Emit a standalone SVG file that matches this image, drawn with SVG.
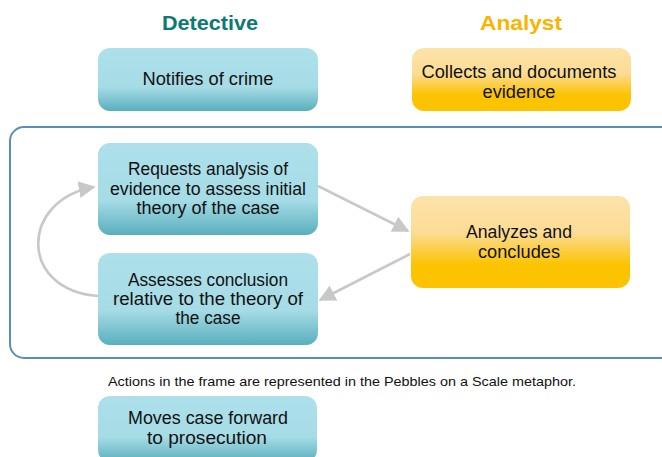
<svg xmlns="http://www.w3.org/2000/svg" width="662" height="457" viewBox="0 0 662 457">
<defs>
<linearGradient id="blue" x1="0" y1="0" x2="0" y2="1">
<stop offset="0" stop-color="#ade0ea"/>
<stop offset="0.62" stop-color="#a6dce6"/>
<stop offset="1" stop-color="#5aafbd"/>
</linearGradient>
<linearGradient id="orange" x1="0" y1="0" x2="0" y2="1">
<stop offset="0" stop-color="#fde3aa"/>
<stop offset="0.4" stop-color="#fcdc95"/>
<stop offset="0.75" stop-color="#fbc300"/>
<stop offset="1" stop-color="#fbc300"/>
</linearGradient>
<marker id="ah" viewBox="0 0 10 10" refX="9" refY="5" markerWidth="6.5" markerHeight="6.5" orient="auto" markerUnits="strokeWidth">
<path d="M0,0 L10,5 L0,10 z" fill="#c8c8c8"/>
</marker>
<style>
.t{font-family:"Liberation Sans",Arial,sans-serif;font-size:17.5px;fill:#111;text-anchor:middle}
.h{font-family:"Liberation Sans",Arial,sans-serif;font-size:21px;font-weight:bold;text-anchor:middle}
.b{fill:url(#blue)}
.o{fill:url(#orange)}
.c{fill:none;stroke:#c8c8c8;stroke-width:2.6;marker-end:url(#ah)}
</style>
</defs>
<rect width="662" height="457" fill="#fff"/>
<text class="h" x="210" y="30" fill="#0b7a70" textLength="96" lengthAdjust="spacingAndGlyphs">Detective</text>
<text class="h" x="521" y="30" fill="#f7b500" textLength="82" lengthAdjust="spacingAndGlyphs">Analyst</text>
<rect x="10" y="127" width="665" height="231" rx="14" fill="none" stroke="#5a8fb5" stroke-width="2"/>
<g id="notifies"><rect class="b" x="98" y="48" width="220" height="63" rx="12"/><text class="t" x="208" y="85" textLength="131" lengthAdjust="spacingAndGlyphs">Notifies of crime</text></g>
<g id="collects"><rect class="o" x="412" y="48" width="219" height="63" rx="12"/><text class="t" x="519" y="78" textLength="195" lengthAdjust="spacingAndGlyphs">Collects and documents</text><text class="t" x="519" y="98" textLength="73" lengthAdjust="spacingAndGlyphs">evidence</text></g>
<g id="requests"><rect class="b" x="98" y="143" width="220" height="92" rx="12"/><text class="t" x="208" y="175" textLength="160" lengthAdjust="spacingAndGlyphs">Requests analysis of</text><text class="t" x="208" y="195" textLength="196" lengthAdjust="spacingAndGlyphs">evidence to assess initial</text><text class="t" x="208" y="214" textLength="143" lengthAdjust="spacingAndGlyphs">theory of the case</text></g>
<g id="assesses"><rect class="b" x="98" y="253" width="220" height="92" rx="12"/><text class="t" x="208" y="286" textLength="160" lengthAdjust="spacingAndGlyphs">Assesses conclusion</text><text class="t" x="208" y="305" textLength="190" lengthAdjust="spacingAndGlyphs">relative to the theory of</text><text class="t" x="208" y="324" textLength="65" lengthAdjust="spacingAndGlyphs">the case</text></g>
<g id="analyzes"><rect class="o" x="411" y="196" width="219" height="92" rx="12"/><text class="t" x="519" y="238" textLength="106" lengthAdjust="spacingAndGlyphs">Analyzes and</text><text class="t" x="519" y="258" textLength="82" lengthAdjust="spacingAndGlyphs">concludes</text></g>
<g id="moves"><rect class="b" x="98" y="396" width="219" height="66" rx="12"/><text class="t" x="208" y="424" textLength="160" lengthAdjust="spacingAndGlyphs">Moves case forward</text><text class="t" x="207" y="443.5" textLength="120" lengthAdjust="spacingAndGlyphs">to prosecution</text></g>
<text x="342" y="386" textLength="468" lengthAdjust="spacingAndGlyphs" style="font-family:'Liberation Sans',Arial,sans-serif;font-size:13.5px;fill:#111;text-anchor:middle">Actions in the frame are represented in the Pebbles on a Scale metaphor.</text>
<g id="connectors">
<path class="c" d="M318,186 L408,231"/>
<path class="c" d="M410,254 L320,300"/>
<path class="c" d="M98,296 C18,290 20,200 94,187"/>
</g>
</svg>
